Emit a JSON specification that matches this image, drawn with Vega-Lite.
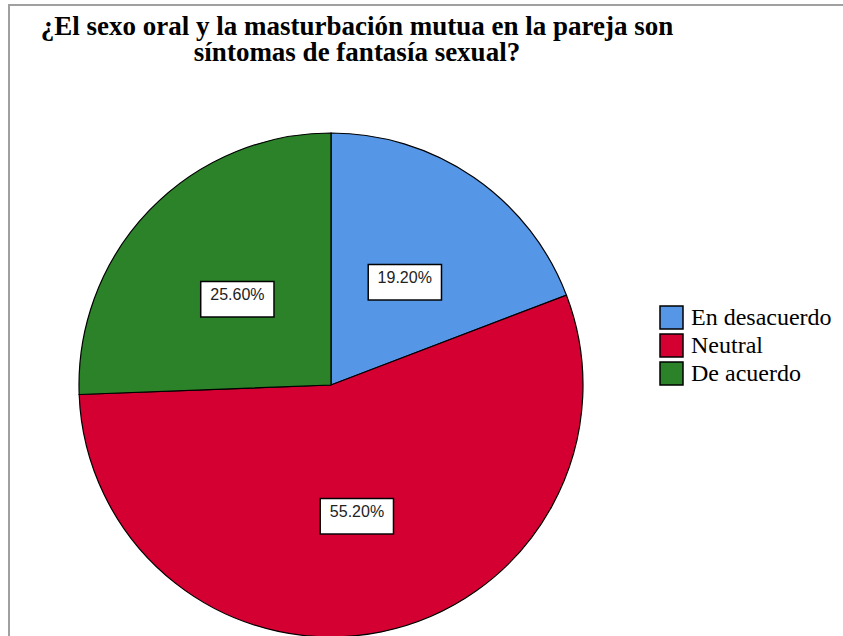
{
  "$schema": "https://vega.github.io/schema/vega-lite/v6.json",
  "width": 840,
  "height": 640,
  "autosize": "none",
  "padding": {"left": 9, "top": 5, "right": 0, "bottom": 0},
  "background": "white",
  "view": {"stroke": "#a0a0a0", "strokeWidth": 2},
  "config": {
    "view": {"stroke": "#a0a0a0", "strokeWidth": 2},
    "legend": {"padding": 0}
  },
  "title": {
    "text": ["¿El sexo oral y la masturbación mutua en la pareja son", "síntomas de fantasía sexual?"],
    "font": "Liberation Serif",
    "fontSize": 27,
    "fontWeight": "bold",
    "color": "black",
    "anchor": "middle",
    "frame": "group",
    "dx": -72,
    "offset": -62,
    "lineHeight": 26
  },
  "data": {
    "values": [
      {"respuesta": "En desacuerdo", "porcentaje": 19.2, "etiqueta": "19.20%", "orden": 1},
      {"respuesta": "Neutral", "porcentaje": 55.2, "etiqueta": "55.20%", "orden": 2},
      {"respuesta": "De acuerdo", "porcentaje": 25.6, "etiqueta": "25.60%", "orden": 3}
    ]
  },
  "encoding": {
    "theta": {"field": "porcentaje", "type": "quantitative", "stack": true},
    "order": {"field": "orden", "type": "quantitative"}
  },
  "layer": [
    {
      "mark": {"type": "arc", "x": 322, "y": 380, "radius": 252, "stroke": "black", "strokeWidth": 1.2},
      "encoding": {
        "color": {
          "field": "respuesta",
          "type": "nominal",
          "sort": ["En desacuerdo", "Neutral", "De acuerdo"],
          "scale": {"domain": ["En desacuerdo", "Neutral", "De acuerdo"], "range": ["#5596E6", "#D50032", "#2B8229"]},
          "legend": {
            "title": null,
            "orient": "none",
            "legendX": 650,
            "legendY": 300,
            "symbolType": "square",
            "symbolSize": 529,
            "symbolStrokeColor": "black",
            "symbolStrokeWidth": 1.5,
            "symbolOpacity": 1,
            "labelFont": "Liberation Serif",
            "labelFontSize": 24,
            "labelColor": "black",
            "labelOffset": 7,
            "rowPadding": -1
          }
        }
      }
    },
    {
      "mark": {"type": "text", "x": 322, "y": 380, "radius": 130, "text": "▬", "font": "DejaVu Sans", "fontSize": 96, "fill": "white", "stroke": "black", "strokeWidth": 1.5, "baseline": "middle", "align": "center"}
    },
    {
      "mark": {"type": "text", "x": 322, "y": 380, "radius": 130, "font": "Liberation Sans", "fontSize": 16, "fill": "#222222", "baseline": "middle", "align": "center"},
      "encoding": {"text": {"field": "etiqueta"}}
    }
  ]
}
